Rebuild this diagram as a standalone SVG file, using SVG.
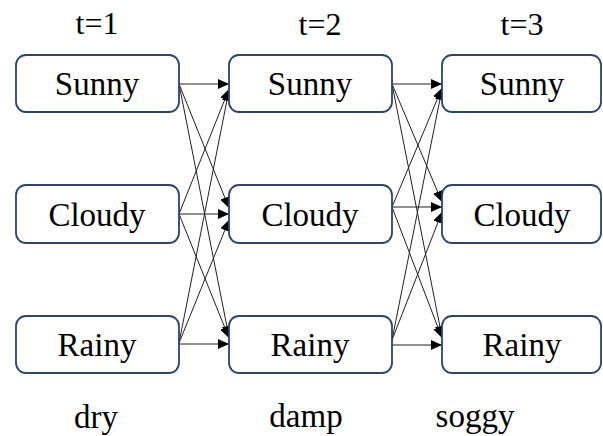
<svg xmlns="http://www.w3.org/2000/svg" width="603" height="436" viewBox="0 0 603 436">
<style>
.box{fill:#fff;stroke:#2E4468;stroke-width:1.8}
.t{font-family:'Liberation Serif','DejaVu Serif','Times New Roman',serif;font-size:33px;fill:#000;text-anchor:middle}
.lbl{font-family:'Liberation Serif','DejaVu Serif','Times New Roman',serif;font-size:32px;fill:#000;text-anchor:middle}
.e{stroke:#222;stroke-width:1;fill:none;marker-end:url(#ah)}
</style>
<defs>
<marker id="ah" markerUnits="userSpaceOnUse" markerWidth="12" markerHeight="10" refX="11" refY="5" orient="auto">
<path d="M0,0 L11,5 L0,10 Z" fill="#000"/>
</marker>
</defs>
<rect width="603" height="436" fill="#fff"/>
<g id="labels" font-family="Liberation Serif, serif">
<text class="lbl" x="97" y="34">t=1</text>
<text class="lbl" x="320" y="35">t=2</text>
<text class="lbl" x="522" y="35">t=3</text>
<text class="t" x="96" y="428">dry</text>
<text class="t" x="306" y="427">damp</text>
<text class="t" x="475" y="427">soggy</text>
</g>
<g id="connectors">
<line class="e" x1="179" y1="84" x2="229" y2="84"/>
<line class="e" x1="179" y1="84" x2="229" y2="208"/>
<line class="e" x1="179" y1="84" x2="229" y2="337"/>
<line class="e" x1="179" y1="214" x2="229" y2="89"/>
<line class="e" x1="179" y1="214" x2="229" y2="214"/>
<line class="e" x1="179" y1="214" x2="229" y2="338"/>
<line class="e" x1="179" y1="343" x2="229" y2="90"/>
<line class="e" x1="179" y1="343" x2="229" y2="220"/>
<line class="e" x1="179" y1="344" x2="229" y2="344"/>
<line class="e" x1="392" y1="84" x2="442" y2="84"/>
<line class="e" x1="392" y1="84" x2="442" y2="202"/>
<line class="e" x1="392" y1="84" x2="442" y2="337"/>
<line class="e" x1="392" y1="207" x2="442" y2="88"/>
<line class="e" x1="392" y1="207" x2="442" y2="207"/>
<line class="e" x1="392" y1="207" x2="442" y2="338"/>
<line class="e" x1="392" y1="340" x2="442" y2="89"/>
<line class="e" x1="392" y1="340" x2="442" y2="212"/>
<line class="e" x1="392" y1="345" x2="442" y2="345"/>
</g>
<g id="n1s"><rect class="box" x="16" y="55" width="163" height="57" rx="10"/><text class="t" x="97" y="95">Sunny</text></g>
<g id="n1c"><rect class="box" x="16" y="185" width="163" height="58" rx="10"/><text class="t" x="97" y="226">Cloudy</text></g>
<g id="n1r"><rect class="box" x="16" y="316" width="163" height="57" rx="10"/><text class="t" x="97" y="356">Rainy</text></g>
<g id="n2s"><rect class="box" x="229" y="55" width="163" height="57" rx="10"/><text class="t" x="310" y="95">Sunny</text></g>
<g id="n2c"><rect class="box" x="229" y="185" width="163" height="58" rx="10"/><text class="t" x="310" y="226">Cloudy</text></g>
<g id="n2r"><rect class="box" x="229" y="316" width="163" height="57" rx="10"/><text class="t" x="310" y="356">Rainy</text></g>
<g id="n3s"><rect class="box" x="442" y="55" width="159" height="57" rx="10"/><text class="t" x="522" y="95">Sunny</text></g>
<g id="n3c"><rect class="box" x="442" y="185" width="159" height="58" rx="10"/><text class="t" x="522" y="226">Cloudy</text></g>
<g id="n3r"><rect class="box" x="442" y="316" width="159" height="57" rx="10"/><text class="t" x="522" y="356">Rainy</text></g>
</svg>
